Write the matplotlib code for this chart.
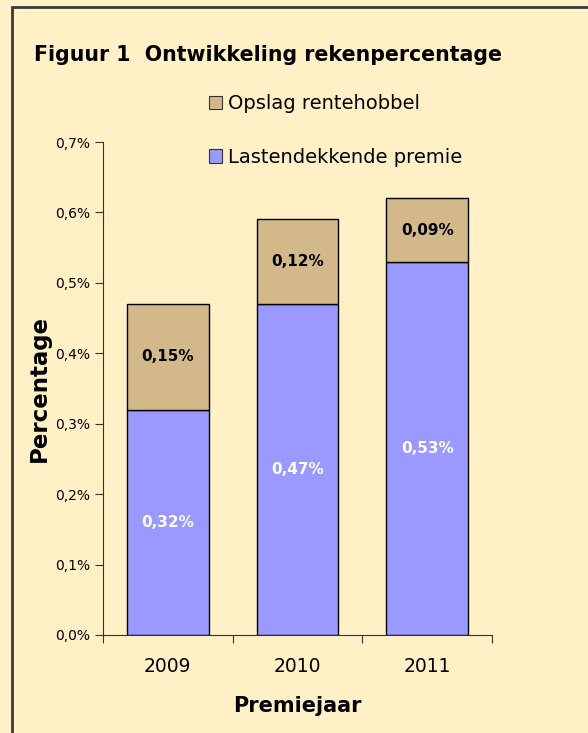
import matplotlib.pyplot as plt
from matplotlib.patches import Rectangle, Patch

# gegevens
jaren = ['2009', '2010', '2011']
lastendekkend = [0.32, 0.47, 0.53]
opslag = [0.15, 0.12, 0.09]
lastendekkend_labels = ['0,32%', '0,47%', '0,53%']
opslag_labels = ['0,15%', '0,12%', '0,09%']
y_ticks = [0.0, 0.1, 0.2, 0.3, 0.4, 0.5, 0.6, 0.7]
y_tick_labels = ['0,0%', '0,1%', '0,2%', '0,3%', '0,4%', '0,5%', '0,6%', '0,7%']

bg = '#FFF0C6'
blauw = '#9999FF'
bruin = '#D3B88A'

fig = plt.figure(figsize=(5.88, 7.33), dpi=100, facecolor=bg)
# kader rond de figuur
fig.patches.append(Rectangle((12 / 588, -0.05), 1.2, 1 - 7 / 733 + 0.05,
                             transform=fig.transFigure, fill=False,
                             edgecolor='#3a3a3a', linewidth=2))

ax = fig.add_axes([103 / 588, 98 / 733, 389 / 588, 493 / 733])
ax.set_facecolor(bg)

x = range(len(jaren))
ax.bar(x, lastendekkend, width=0.63, color=blauw, edgecolor='black', linewidth=1)
ax.bar(x, opslag, width=0.63, bottom=lastendekkend, color=bruin,
       edgecolor='black', linewidth=1)

for i in x:
    ax.text(i, lastendekkend[i] / 2, lastendekkend_labels[i], ha='center',
            va='center', color='white', fontsize=11, fontweight='bold')
    ax.text(i, lastendekkend[i] + opslag[i] / 2, opslag_labels[i], ha='center',
            va='center', color='black', fontsize=11, fontweight='bold')

ax.set_xlim(-0.5, 2.5)
ax.set_ylim(0, 0.7)
ax.set_yticks(y_ticks)
ax.set_yticklabels(y_tick_labels, fontsize=10)
ax.set_xticks([-0.5, 0.5, 1.5, 2.5])
ax.set_xticklabels([])
ax.set_xticks(list(x), minor=True)
ax.set_xticklabels(jaren, minor=True, fontsize=13.5)
ax.tick_params(axis='x', which='minor', length=0, pad=16)
ax.tick_params(axis='x', which='major', length=6, color='#333333')
ax.tick_params(axis='y', length=6, color='#333333')
for s in ['top', 'right']:
    ax.spines[s].set_visible(False)
for s in ['left', 'bottom']:
    ax.spines[s].set_color('#333333')

ax.set_xlabel('Premiejaar', fontsize=15, fontweight='bold', labelpad=14)
ax.set_ylabel('Percentage', fontsize=16.5, fontweight='bold', labelpad=3)

fig.text(268 / 588, 1 - 55 / 733, 'Figuur 1  Ontwikkeling rekenpercentage',
         ha='center', va='center', fontsize=14.8, fontweight='bold')

handles = [Patch(facecolor=bruin, edgecolor='#333333', linewidth=0.8),
           Patch(facecolor=blauw, edgecolor='#333333', linewidth=0.8)]
fig.legend(handles, ['Opslag rentehobbel', 'Lastendekkende premie'],
           loc='upper left', bbox_to_anchor=(191 / 588, 1 - 77 / 733),
           frameon=False, fontsize=14, handlelength=0.7, handleheight=0.7,
           handletextpad=0.3, labelspacing=1.75)

fig.savefig('out.png', dpi=100, facecolor=bg)
